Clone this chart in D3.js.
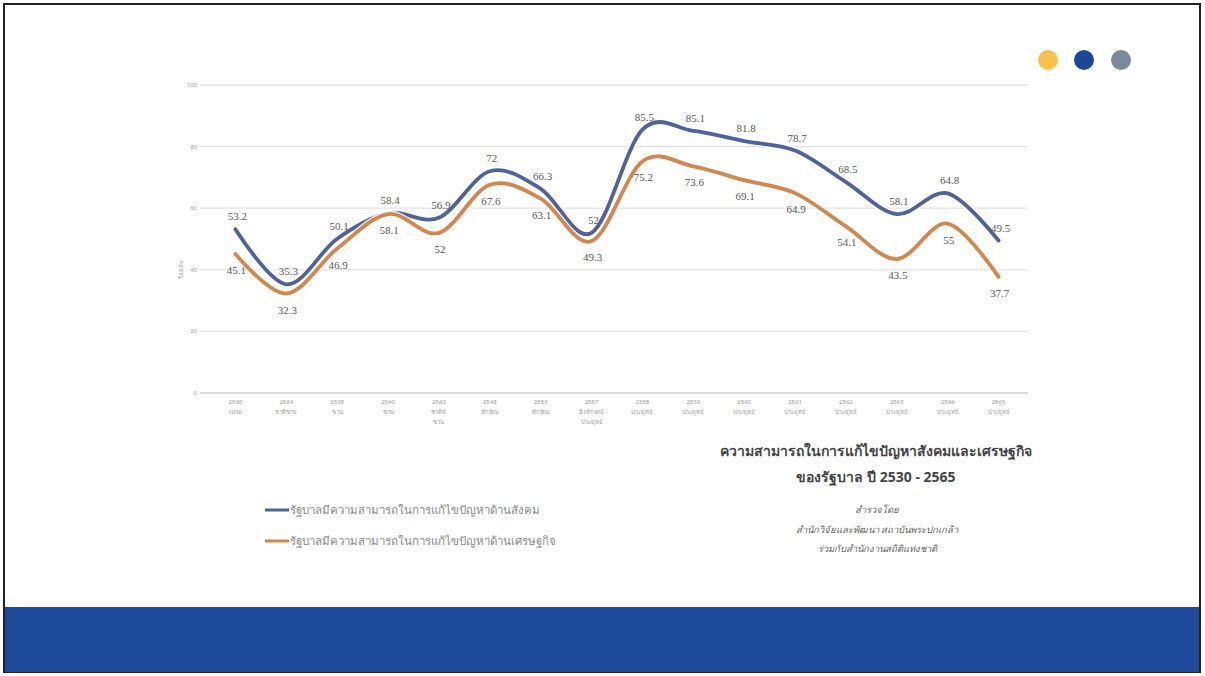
<!DOCTYPE html>
<html><head><meta charset="utf-8">
<script src="https://cdn.jsdelivr.net/npm/d3@7"></script>
<style>
html,body{margin:0;padding:0;background:#fff;}
svg{display:block;font-family:"Noto Sans","DejaVu Sans",sans-serif;}
</style></head>
<body><svg id="c" width="1205" height="676"></svg>
<script>
const years = ["2530","2534","2538","2540","2543","2548","2553","2557","2558","2559","2560","2561","2562","2563","2564","2565"];
const leaders = [["เปรม"],["ชาติชาย"],["ชวน"],["ชวน"],["ชวลิต","ชวน"],["ทักษิณ"],["ทักษิณ"],["ยิ่งลักษณ์","ประยุทธ์"],["ประยุทธ์"],["ประยุทธ์"],["ประยุทธ์"],["ประยุทธ์"],["ประยุทธ์"],["ประยุทธ์"],["ประยุทธ์"],["ประยุทธ์"]];
const social = [53.2,35.3,50.1,58.4,56.9,72,66.3,52,85.5,85.1,81.8,78.7,68.5,58.1,64.8,49.5];
const economic = [45.1,32.3,46.9,58.1,52,67.6,63.1,49.3,75.2,73.6,69.1,64.9,54.1,43.5,55,37.7];
const yTicks = [0,20,40,60,80,100];
const seriesNames = ["รัฐบาลมีความสามารถในการแก้ไขปัญหาด้านสังคม","รัฐบาลมีความสามารถในการแก้ไขปัญหาด้านเศรษฐกิจ"];
const colors = ["#4f6299","#d1874f"];

const svg = d3.select("#c");
svg.append("rect").attr("x",4).attr("y",4).attr("width",1196).attr("height",668).attr("fill","#fff").attr("stroke","#222").attr("stroke-width",2);
svg.append("rect").attr("x",5).attr("y",607).attr("width",1194).attr("height",65).attr("fill","#1d4a9a");
[["#f8c14b",1048],["#1c4797",1084],["#7a8a9b",1121]].forEach(d=>{
  svg.append("circle").attr("cx",d[1]).attr("cy",60).attr("r",10).attr("fill",d[0]);
});

const x = d3.scalePoint().domain(years).range([210,1024]).padding(0.5);
const y = d3.scaleLinear().domain([0,100]).range([393,85]);

const g = svg.append("g");
g.selectAll("line.grid").data(yTicks).join("line")
  .attr("x1",200).attr("x2",1028).attr("y1",d=>y(d)).attr("y2",d=>y(d))
  .attr("stroke",d=>d===0?"#cfcfcf":"#e3e3e3").attr("stroke-width",1.3);
g.selectAll("text.yt").data(yTicks).join("text")
  .attr("x",197).attr("y",d=>y(d)+2).attr("text-anchor","end")
  .attr("font-size",6).attr("fill","#999").text(d=>d);
svg.append("text").attr("transform","translate(183,270) rotate(-90)").attr("text-anchor","middle")
  .attr("font-size",6).attr("fill","#999").text("ร้อยละ");

years.forEach((yr,i)=>{
  const t = svg.append("text").attr("x",x(yr)).attr("y",404).attr("text-anchor","middle").attr("font-size",6).attr("fill","#9a9a9a");
  t.append("tspan").attr("x",x(yr)).attr("dy",0).text(yr);
  leaders[i].forEach((n,k)=>t.append("tspan").attr("x",x(yr)).attr("dy",10).text(n));
});

const line = d3.line().x((d,i)=>x(years[i])).y(d=>y(d)).curve(d3.curveCatmullRom.alpha(0));
[social,economic].forEach((s,k)=>{
  svg.append("path").datum(s).attr("d",line).attr("fill","none").attr("stroke","#fff").attr("stroke-width",6.5).attr("opacity",0.9);
  svg.append("path").datum(s).attr("d",line).attr("fill","none").attr("stroke",colors[k]).attr("stroke-width",3.8).attr("stroke-linecap","round");
});

svg.selectAll("text.ls").data(social).join("text")
  .attr("x",(d,i)=>x(years[i])+2).attr("y",d=>y(d)-9).attr("text-anchor","middle")
  .attr("font-size",11).attr("fill","#5a5a5a").attr("font-family","Liberation Serif, serif").text(d=>d);
svg.selectAll("text.le").data(economic).join("text")
  .attr("x",(d,i)=>x(years[i])+1).attr("y",d=>y(d)+20).attr("text-anchor","middle")
  .attr("font-size",11).attr("fill","#5a5a5a").attr("font-family","Liberation Serif, serif").text(d=>d);

seriesNames.forEach((n,k)=>{
  const yy = 510 + k*31;
  svg.append("line").attr("x1",265).attr("x2",289).attr("y1",yy).attr("y2",yy).attr("stroke",colors[k]).attr("stroke-width",3);
  svg.append("text").attr("x",290).attr("y",yy+4).attr("font-size",11.5).attr("fill","#8a8a8a").text(n);
});

svg.append("text").attr("x",876).attr("y",456).attr("text-anchor","middle").attr("font-size",14).attr("font-weight","bold").attr("fill","#444").text("ความสามารถในการแก้ไขปัญหาสังคมและเศรษฐกิจ");
svg.append("text").attr("x",876).attr("y",482).attr("text-anchor","middle").attr("font-size",14).attr("font-weight","bold").attr("fill","#444").text("ของรัฐบาล ปี 2530 - 2565");
["สำรวจโดย","สำนักวิจัยและพัฒนา สถาบันพระปกเกล้า","ร่วมกับสำนักงานสถิติแห่งชาติ"].forEach((t,i)=>{
  svg.append("text").attr("x",877).attr("y",513+i*19.5).attr("text-anchor","middle").attr("font-size",9.5).attr("font-style","italic").attr("fill","#666").text(t);
});
</script></body></html>
